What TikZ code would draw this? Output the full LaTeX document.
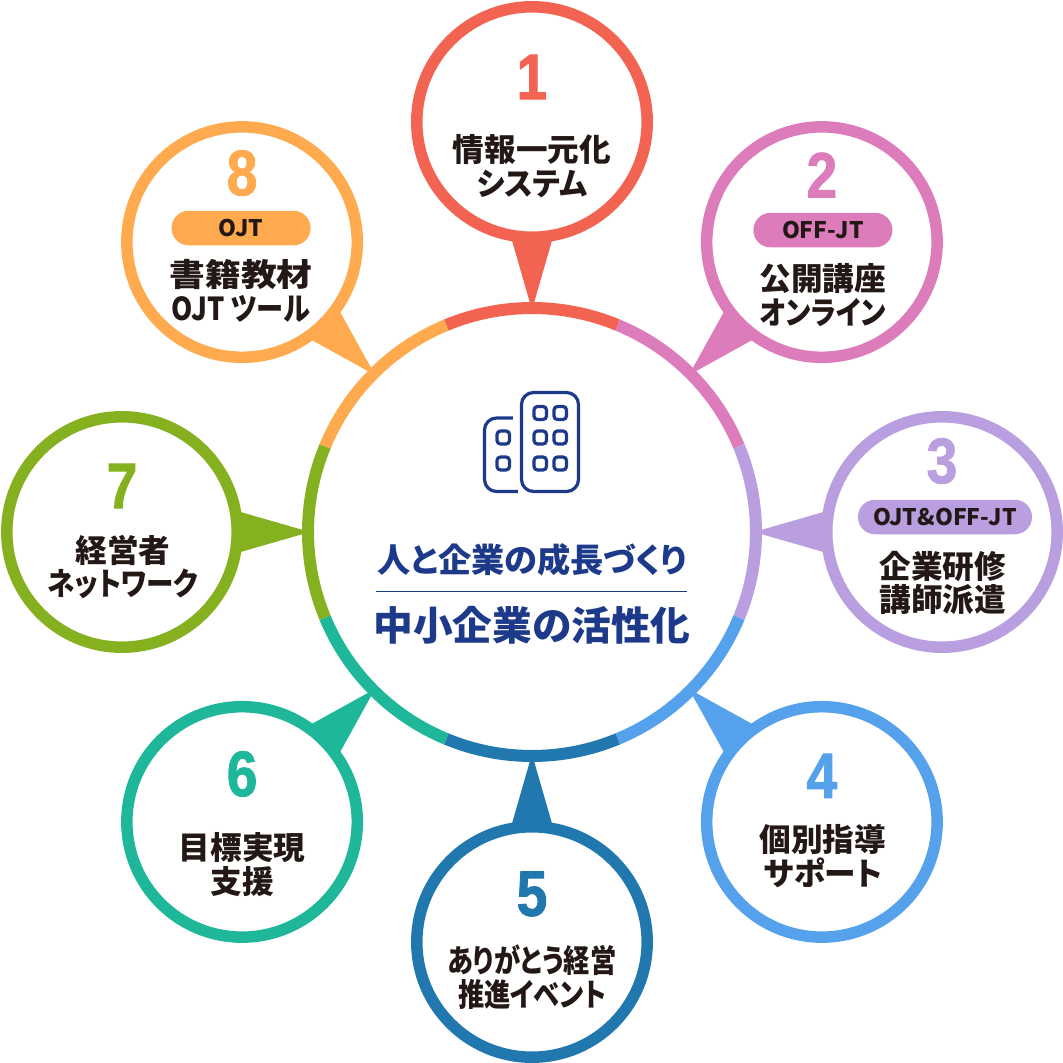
\documentclass[tikz,border=0pt]{standalone}
\usepackage{fontspec}
\setmainfont{Noto Sans CJK JP}[RawFeature=+palt]
\newfontfamily\numfont{Liberation Sans Bold}[FakeBold=1.4,FakeStretch=0.86]
\usetikzlibrary{calc}
\definecolor{fred}{HTML}{F26451}
\definecolor{fpink}{HTML}{DD7CBB}
\definecolor{flav}{HTML}{BA9FE0}
\definecolor{fblue}{HTML}{55A1EC}
\definecolor{fdeep}{HTML}{2178AF}
\definecolor{fteal}{HTML}{1FB79A}
\definecolor{fgreen}{HTML}{85B01F}
\definecolor{forange}{HTML}{FFAA4F}
\definecolor{fnavy}{HTML}{1D3A8A}
\definecolor{fink}{HTML}{231815}
\tikzset{
  hubnode/.style  = {circle, fill=white, minimum size=8.72cm, inner sep=0pt},
  bubble/.style   = {circle, fill=white, line width=0.23cm, minimum size=4.61cm, inner sep=0pt},
  numlabel/.style = {font=\numfont\fontsize{36.5}{36.5}\selectfont, inner sep=0pt},
  pill/.style     = {rounded corners=0.34cm, minimum height=0.69cm, inner sep=0pt,
                     text=fink, font=\bfseries\fontsize{13}{13}\selectfont},
  caption/.style  = {align=center, inner sep=0pt, text=fink,
                     font=\bfseries\fontsize{18}{19.3}\selectfont},
  headline/.style = {inner sep=0pt, text=fnavy, font=\bfseries},
  window/.style   = {rounded corners=0.07cm},
}
\begin{document}
\begin{tikzpicture}[x=0.02cm,y=0.02cm]
\useasboundingbox (-532,-531) rectangle (531,532);
% hub
\node[hubnode] (hub) at (0,0) {};
\foreach \ang/\col in {90/fred,45/fpink,0/flav,-45/fblue,-90/fdeep,-135/fteal,180/fgreen,135/forange}{
  \draw[\col,line width=0.24cm] ($(hub)+(\ang-22.5:224)$) arc (\ang-22.5:\ang+22.5:224);
}
% pointers
\foreach \ang/\col in {90/fred,45/fpink,0/flav,-45/fblue,-90/fdeep,-135/fteal,180/fgreen,135/forange}{
  \fill[\col] (\ang:222) -- ($(\ang:295)+(\ang+90:21)$) -- ($(\ang:295)+(\ang-90:21)$) -- cycle;
}
% bubbles
\foreach \n/\ang/\col in {1/90/fred,2/45/fpink,3/0/flav,4/-45/fblue,5/-90/fdeep,6/-135/fteal,7/180/fgreen,8/135/forange}{
  \node[bubble,draw=\col] (b\n) at (\ang:410) {};
}
% numbers
\node[numlabel,text=fred]    (n1) at ($(b1)+(0,45)$) {1};
\node[numlabel,text=fpink]   (n2) at ($(b2)+(0,67)$) {2};
\node[numlabel,text=flav]    (n3) at ($(b3)+(0,71)$) {3};
\node[numlabel,text=fblue]   (n4) at ($(b4)+(0,46)$) {4};
\node[numlabel,text=fdeep]   (n5) at ($(b5)+(0,48)$) {5};
\node[numlabel,text=fteal]   (n6) at ($(b6)+(0,48)$) {6};
\node[numlabel,text=fgreen]  (n7) at ($(b7)+(0,46)$) {7};
\node[numlabel,text=forange] (n8) at ($(b8)+(0,69)$) {8};
% tags
\node[pill,fill=fpink,minimum width=2.78cm]   (t2) at ($(b2)+(1,12)$) {OFF-JT};
\node[pill,fill=flav,minimum width=3.48cm]    (t3) at ($(b3)+(3,15)$) {OJT\&OFF-JT};
\node[pill,fill=forange,minimum width=2.78cm] (t8) at ($(b8)+(-1,14)$) {OJT};
% captions
\node[caption] (c1) at ($(b1)+(0,-44)$) {情報一元化\\\scalebox{.95}[1]{システム}};
\node[caption] (c2) at ($(b2)+(1,-53)$) {公開講座\\\scalebox{.87}[1]{オンライン}};
\node[caption] (c3) at ($(b3)+(1,-51)$) {企業研修\\講師派遣};
\node[caption] (c4) at ($(b4)+(1,-34)$) {個別指導\\サポート};
\node[caption] (c5) at ($(b5)+(0,-35)$) {\scalebox{.83}[1]{ありがとう経営}\\\scalebox{.83}[1]{推進イベント}};
\node[caption] (c6) at ($(b6)+(0,-43)$) {目標実現\\支援};
\node[caption] (c7) at ($(b7)+(1,-35)$) {経営者\\\scalebox{.87}[1]{ネットワーク}};
\node[caption] (c8) at ($(b8)+(-1,-49)$) {\scalebox{1.13}[1]{書籍教材}\\\scalebox{.86}[1]{OJT ツール}};
% hub text
\node[headline,font=\bfseries\fontsize{18.9}{19}\selectfont] (h1) at (0,-28) {人と企業の成長づくり};
\node[headline,font=\bfseries\fontsize{22.6}{23}\selectfont] (h2) at (0,-93) {中小企業の活性化};
\coordinate (rl) at (-156,-59);
\coordinate (rr) at (155,-59);
\draw[fnavy,line width=0.02cm] (rl) -- (rr);
% building
\begin{scope}[shift={(-532,532)},y=-0.02cm,fnavy,line width=0.064cm]
  \draw[rounded corners=0.24cm] (521.5,392.5) rectangle (578.5,491.5);
  \draw[rounded corners=0.24cm] (513,418) -- (484.5,418) -- (484.5,491.5) -- (518,491.5);
  \foreach \px in {534,554}{
    \foreach \py in {406.5,431,457}{
      \draw[window] (\px,\py) rectangle ++(12.5,13);
    }
  }
  \foreach \py in {431,457}{
    \draw[window] (497,\py) rectangle ++(12.5,13);
  }
\end{scope}
\end{tikzpicture}
\end{document}
